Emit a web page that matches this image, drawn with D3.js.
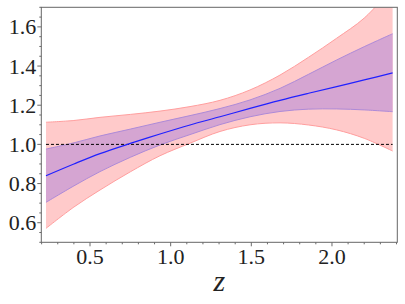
<!DOCTYPE html>
<html><head><meta charset="utf-8">
<script src="https://cdn.jsdelivr.net/npm/d3@7"></script>
</head><body style="margin:0"><svg id="c" width="405" height="304"></svg>
<script>
const zVals      = [0.227, 0.40, 0.562, 0.75, 0.934, 1.12, 1.306, 1.492, 1.678, 1.855, 2.029, 2.2, 2.376];
const centerVals = [0.840, 0.900, 0.953, 1.005, 1.053, 1.099, 1.141, 1.184, 1.225, 1.261, 1.295, 1.329, 1.365];
const innerUp    = [0.976, 1.008, 1.043, 1.078, 1.113, 1.147, 1.183, 1.227, 1.286, 1.358, 1.431, 1.499, 1.565];
const innerLo    = [0.704, 0.788, 0.861, 0.934, 0.997, 1.050, 1.101, 1.141, 1.168, 1.180, 1.181, 1.176, 1.167];
const outerUp    = [1.113, 1.122, 1.138, 1.153, 1.170, 1.193, 1.225, 1.278, 1.354, 1.445, 1.542, 1.645, 1.800];
const outerLo    = [0.571, 0.680, 0.767, 0.860, 0.942, 1.006, 1.066, 1.100, 1.110, 1.099, 1.074, 1.031, 0.966];
const refLine = 1.0;
const xTicks = [0.5, 1.0, 1.5, 2.0];
const yTicks = [0.6, 0.8, 1.0, 1.2, 1.4, 1.6];
const xLabel = "z";

const FONT = "Liberation Serif";
const svg = d3.select("#c");
const L = 41.3, R = 397.3, T = 7.3, B = 242.3;
const x = d3.scaleLinear().domain([0.198, 2.405]).range([L, R]);
const y = d3.scaleLinear().domain([0.5, 1.7]).range([B, T]);

const g = svg.append("g");
const idx = d3.range(zVals.length);
const curve = d3.curveCatmullRom.alpha(0.5);
const area = (up, lo) => d3.area().curve(curve).x(i=>x(zVals[i])).y0(i=>y(lo[i])).y1(i=>y(up[i]));
const line = (arr) => d3.line().curve(curve).x(i=>x(zVals[i])).y(i=>y(arr[i]));
const clampTop = arr => arr.map(v => Math.min(v, 1.7));

g.append("path").attr("d", area(outerUp, outerLo)(idx)).attr("fill","#ffcaca").attr("stroke","none");
g.append("path").attr("d", line(outerUp)(idx)).attr("fill","none").attr("stroke","#ff9e9e").attr("stroke-width",1);
g.append("path").attr("d", line(outerLo)(idx)).attr("fill","none").attr("stroke","#ff9e9e").attr("stroke-width",1);
g.append("path").attr("d", area(innerUp, innerLo)(idx)).attr("fill","#d5a5d2").attr("stroke","none");
g.append("path").attr("d", line(innerUp)(idx)).attr("fill","none").attr("stroke","#ad8ad8").attr("stroke-width",1);
g.append("path").attr("d", line(innerLo)(idx)).attr("fill","none").attr("stroke","#ad8ad8").attr("stroke-width",1);
g.append("line").attr("x1",x(zVals[0])).attr("x2",x(zVals[zVals.length-1]))
  .attr("y1",y(refLine)).attr("y2",y(refLine))
  .attr("stroke","#000").attr("stroke-width",1).attr("stroke-dasharray","3,2");
g.append("path").attr("d", line(centerVals)(idx)).attr("fill","none").attr("stroke","#2020ff").attr("stroke-width",1.2);

// mask anything above the top spine
svg.append("rect").attr("x",0).attr("y",0).attr("width",405).attr("height",T).attr("fill","#fff");

// ticks drawn manually from scales
const xMinor = d3.range(0.2, 2.41, 0.1).map(v=>+v.toFixed(2)).filter(v=>!xTicks.some(t=>Math.abs(t-v)<1e-6));
const yMinor = d3.range(0.5, 1.701, 0.05).map(v=>+v.toFixed(2)).filter(v=>!yTicks.some(t=>Math.abs(t-v)<1e-6));
const tk = svg.append("g").attr("stroke","#444").attr("stroke-width",0.8);
xTicks.forEach(v=>tk.append("line").attr("x1",x(v)).attr("x2",x(v)).attr("y1",B).attr("y2",B+4));
xMinor.forEach(v=>tk.append("line").attr("x1",x(v)).attr("x2",x(v)).attr("y1",B).attr("y2",B+2));
yTicks.forEach(v=>tk.append("line").attr("y1",y(v)).attr("y2",y(v)).attr("x1",L).attr("x2",L-4));
yMinor.forEach(v=>tk.append("line").attr("y1",y(v)).attr("y2",y(v)).attr("x1",L).attr("x2",L-2));

const fmt = d3.format(".1f");
xTicks.forEach(v=>svg.append("text").attr("x",x(v)).attr("y",B+22).attr("text-anchor","middle")
  .attr("font-family",FONT).attr("font-size",22).attr("fill","#222").text(fmt(v)));
yTicks.forEach(v=>svg.append("text").attr("x",L-5).attr("y",y(v)+7.5).attr("text-anchor","end")
  .attr("font-family",FONT).attr("font-size",22).attr("fill","#222").text(fmt(v)));

svg.append("rect").attr("x",L).attr("y",T).attr("width",R-L).attr("height",B-T)
  .attr("fill","none").attr("stroke","#666").attr("stroke-width",1);

svg.append("text").attr("x",(L+R)/2).attr("y",291).attr("text-anchor","middle")
  .attr("font-family",FONT).attr("font-style","italic").attr("font-size",30).attr("fill","#222").text(xLabel);
</script></body></html>
